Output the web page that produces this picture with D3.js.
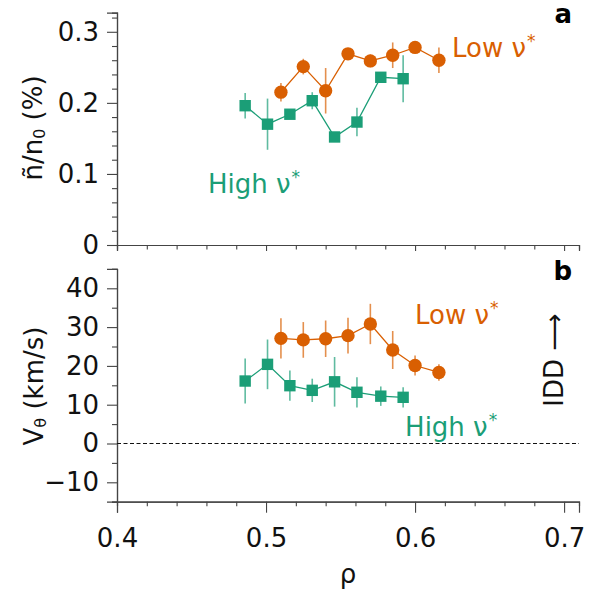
<!DOCTYPE html>
<html>
<head>
<meta charset="utf-8">
<script src="https://cdn.jsdelivr.net/npm/d3@7"></script>
<style>
  body { margin: 0; background: #fff; }
  svg { font-family: "DejaVu Sans", sans-serif; }
</style>
</head>
<body>
<svg id="chart" width="590" height="590"></svg>
<script>
// Radial positions
const rhoLow = [0.510, 0.525, 0.540, 0.555, 0.570, 0.585, 0.600, 0.616];
const rhoHigh = [0.486, 0.501, 0.516, 0.531, 0.546, 0.561, 0.577, 0.592];

// Panel a: density fluctuation level (%)
const nLow = [0.215, 0.251, 0.217, 0.269, 0.259, 0.267, 0.278, 0.260];
const nLowErr = [0.013, 0.011, 0.032, 0.006, 0.009, 0.018, 0.005, 0.018];
const nHigh = [0.196, 0.170, 0.184, 0.203, 0.152, 0.173, 0.236, 0.234];
const nHighErr = [0.018, 0.036, 0.005, 0.012, 0.004, 0.020, 0.004, 0.033];

// Panel b: poloidal velocity (km/s)
const vLow = [27.1, 26.7, 27.0, 27.8, 30.8, 24.1, 20.1, 18.3];
const vLowErr = [5.2, 4.6, 4.7, 4.6, 5.2, 4.9, 2.6, 2.1];
const vHigh = [16.1, 20.4, 14.9, 13.7, 15.9, 13.2, 12.2, 11.9];
const vHighErr = [5.8, 6.4, 3.9, 3.0, 6.4, 3.9, 2.5, 2.6];

// Tick values
const xTicks = [0.4, 0.5, 0.6, 0.7];
const nTicks = [0, 0.1, 0.2, 0.3];
const vTicks = [-10, 0, 10, 20, 30, 40];

const orange = '#d95f02';
const green = '#1b9e77';
const FS = 26;

const svg = d3.select('#chart');

const x = d3.scaleLinear().domain([0.4, 0.71]).range([117, 579]);
const yA = d3.scaleLinear().domain([0, 0.327]).range([245, 12.6]);
const yB = d3.scaleLinear().domain([-15, 45]).range([501.7, 268.9]);

function styleAxis(g) {
  g.select('.domain').attr('stroke', '#444').attr('stroke-width', 1.2);
  g.selectAll('.tick line').attr('stroke', '#444').attr('stroke-width', 1.1);
  g.selectAll('.tick text').attr('font-size', FS).attr('fill', '#111')
    .attr('font-family', '"DejaVu Sans", sans-serif');
}

function drawPanel(y, majors, minorStep, fmt, showXLabels) {
  const y0 = y.range()[0];
  // minor ticks
  const yMin = d3.range(y.domain()[0], y.domain()[1] + 1e-9, minorStep)
    .filter(v => !majors.some(m => Math.abs(m - v) < 1e-9));
  svg.append('g').attr('transform', 'translate(117,0)')
    .call(d3.axisLeft(y).tickValues(yMin).tickSize(5).tickFormat(''))
    .call(styleAxis);
  svg.append('g').attr('transform', 'translate(117,0)')
    .call(d3.axisLeft(y).tickValues(majors).tickSize(10).tickPadding(8).tickFormat(fmt))
    .call(styleAxis);

  const xMin = d3.range(0.42, 0.71, 0.02)
    .filter(v => !xTicks.some(m => Math.abs(m - v) < 1e-9));
  svg.append('g').attr('transform', `translate(0,${y0})`)
    .call(d3.axisBottom(x).tickValues(xMin).tickSize(4.5).tickFormat(''))
    .call(styleAxis);
  svg.append('g').attr('transform', `translate(0,${y0})`)
    .call(d3.axisBottom(x).tickValues(xTicks).tickSize(showXLabels ? 11 : 6).tickPadding(16)
      .tickFormat(showXLabels ? d3.format('.1f') : ''))
    .call(styleAxis);
}

function drawSeries(y, rho, vals, errs, color, shape) {
  const g = svg.append('g');
  g.selectAll('line.err').data(rho).join('line')
    .attr('x1', d => x(d)).attr('x2', d => x(d))
    .attr('y1', (d, i) => y(vals[i] - errs[i]))
    .attr('y2', (d, i) => y(vals[i] + errs[i]))
    .attr('stroke', color).attr('stroke-opacity', 0.7).attr('stroke-width', 1.6);
  g.append('path')
    .datum(rho.map((d, i) => [d, vals[i]]))
    .attr('fill', 'none').attr('stroke', color).attr('stroke-width', 1.3)
    .attr('d', d3.line().x(d => x(d[0])).y(d => y(d[1])));
  const sym = shape === 'circle' ? d3.symbol(d3.symbolCircle, 140) : d3.symbol(d3.symbolSquare, 130);
  g.selectAll('path.pt').data(rho).join('path')
    .attr('transform', (d, i) => `translate(${x(d)},${y(vals[i])})`)
    .attr('d', sym).attr('fill', color);
}

function label(xv, yv, color, txt) {
  const t = svg.append('text').attr('x', x(xv)).attr('y', yv)
    .attr('font-size', FS).attr('fill', color);
  t.append('tspan').text(txt + ' \u03bd');
  t.append('tspan').attr('font-size', 17).attr('dx', 1).attr('dy', -10).text('*');
}

// Panel a
drawPanel(yA, nTicks, 0.02, d => d === 0 ? '0' : d3.format('.1f')(d), false);
drawSeries(yA, rhoHigh, nHigh, nHighErr, green, 'square');
drawSeries(yA, rhoLow, nLow, nLowErr, orange, 'circle');
label(0.6248, yA(0.2645), orange, 'Low');
label(0.4611, yA(0.0732), green, 'High');

// Panel b
drawPanel(yB, vTicks, 5, d => d < 0 ? '\u2212' + Math.abs(d) : String(d), true);
svg.append('line')
  .attr('x1', x(0.4)).attr('x2', x(0.71))
  .attr('y1', yB(0)).attr('y2', yB(0))
  .attr('stroke', '#111').attr('stroke-width', 1).attr('stroke-dasharray', '4,2.5');
drawSeries(yB, rhoHigh, vHigh, vHighErr, green, 'square');
drawSeries(yB, rhoLow, vLow, vLowErr, orange, 'circle');
label(0.600, yB(30.7), orange, 'Low');
label(0.5933, yB(1.96), green, 'High');

// IDD direction marker
svg.append('text')
  .attr('transform', 'translate(563,360) rotate(-90)')
  .attr('text-anchor', 'middle').attr('font-size', FS).attr('fill', '#111')
  .text('IDD \u27f6');

// Panel letters
svg.append('text').attr('x', 572).attr('y', 23).attr('text-anchor', 'end')
  .attr('font-size', FS).attr('font-weight', 'bold').text('a');
svg.append('text').attr('x', 572).attr('y', 280).attr('text-anchor', 'end')
  .attr('font-size', FS).attr('font-weight', 'bold').text('b');

// Axis titles
const ta = svg.append('text')
  .attr('transform', 'translate(42,128) rotate(-90)')
  .attr('text-anchor', 'middle').attr('font-size', FS).attr('fill', '#111');
ta.append('tspan').text('\u00f1/n');
ta.append('tspan').attr('font-size', 16).attr('dy', 3).text('0');
ta.append('tspan').attr('dy', -3).text(' (%)');

const tb = svg.append('text')
  .attr('transform', 'translate(43,386) rotate(-90)')
  .attr('text-anchor', 'middle').attr('font-size', FS).attr('fill', '#111');
tb.append('tspan').text('V');
tb.append('tspan').attr('font-size', 16).attr('dy', 3).text('\u03b8');
tb.append('tspan').attr('dy', -3).text(' (km/s)');

svg.append('text').attr('x', 348).attr('y', 583).attr('text-anchor', 'middle')
  .attr('font-size', FS).attr('fill', '#111').text('\u03c1');
</script>
</body>
</html>
